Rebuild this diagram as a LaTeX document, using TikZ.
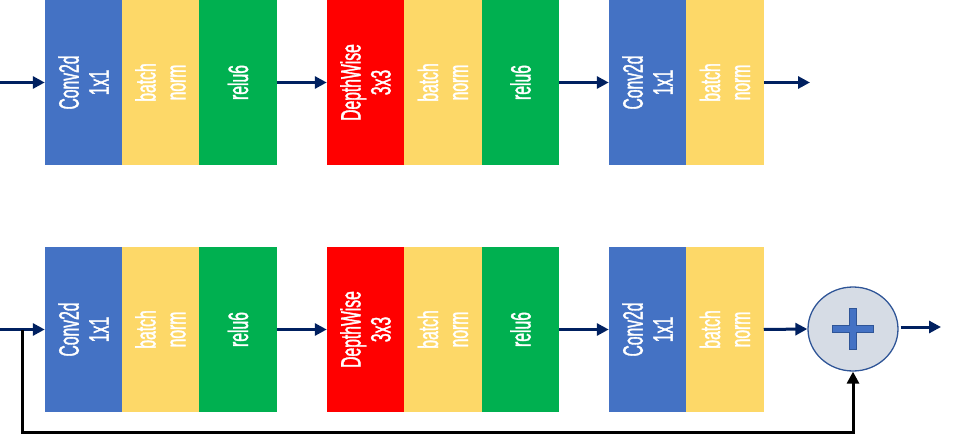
\documentclass[tikz,border=0pt]{standalone}
\usepackage{fontspec}
\newfontfamily\agency[FakeStretch=0.56,FakeBold=1.2]{Liberation Sans}
\usetikzlibrary{arrows.meta,shapes.geometric}
\definecolor{cblue}{HTML}{4472C4}
\definecolor{cyellow}{HTML}{FDD868}
\definecolor{cgreen}{HTML}{00B050}
\definecolor{cred}{HTML}{FF0000}
\definecolor{navy}{HTML}{002060}
\definecolor{sumfill}{HTML}{D6DCE5}
\definecolor{sumline}{HTML}{2F5597}
\begin{document}
\begin{tikzpicture}[x=1pt,y=-1pt,
  blk/.style={rotate=90,minimum width=165pt,minimum height=77.5pt,inner sep=0pt,outer sep=0pt,
    text=white,align=center,font=\agency\fontsize{28}{30}\selectfont},
  arr/.style={draw=navy,line width=3pt,-{Triangle[length=12pt,width=12pt]}},
  fb/.style={draw=black,line width=3pt,-{Triangle[length=12pt,width=12pt]}},
  sumnode/.style={ellipse,minimum width=90pt,minimum height=84pt,fill=sumfill,draw=sumline,line width=1.3pt,inner sep=0pt},
  plus/.style={fill=cblue,draw=sumline,line width=1.2pt}]
\useasboundingbox (0,0) rectangle (954,434);
% top row
\node[blk,fill=cblue]   (a1) at (83.5,82.5)  {Conv2d\\1x1};
\node[blk,fill=cyellow] (a2) at (160.5,82.5) {batch\\norm};
\node[blk,fill=cgreen]  (a3) at (238,82.5)   {relu6};
\node[blk,fill=cred]    (b1) at (365.5,82.5) {DepthWise\\3x3};
\node[blk,fill=cyellow] (b2) at (443,82.5)   {batch\\norm};
\node[blk,fill=cgreen]  (b3) at (520.5,82.5) {relu6};
\node[blk,fill=cblue]   (c1) at (647.5,82.5) {Conv2d\\1x1};
\node[blk,fill=cyellow] (c2) at (725,82.5)   {batch\\norm};
\coordinate (in1) at (0,82.5);
\coordinate (out1) at (810,82.5);
\draw[arr] (in1) -- (a1.north);
\draw[arr] (a3.south) -- (b1.north);
\draw[arr] (b3.south) -- (c1.north);
\draw[arr] (c2.south) -- (out1);
% bottom row
\node[blk,fill=cblue]   (d1) at (83.5,329.5)  {Conv2d\\1x1};
\node[blk,fill=cyellow] (d2) at (160.5,329.5) {batch\\norm};
\node[blk,fill=cgreen]  (d3) at (238,329.5)   {relu6};
\node[blk,fill=cred]    (e1) at (365.5,329.5) {DepthWise\\3x3};
\node[blk,fill=cyellow] (e2) at (443,329.5)   {batch\\norm};
\node[blk,fill=cgreen]  (e3) at (520.5,329.5) {relu6};
\node[blk,fill=cblue]   (f1) at (647.5,329.5) {Conv2d\\1x1};
\node[blk,fill=cyellow] (f2) at (725,329.5)   {batch\\norm};
\node[sumnode] (sum) at (853,329) {};
\draw[plus] ([shift={(-3.5,-20.5)}]sum.center) -- ++(7,0) -- ++(0,17) -- ++(17,0) -- ++(0,7) -- ++(-17,0) -- ++(0,17) -- ++(-7,0) -- ++(0,-17) -- ++(-17,0) -- ++(0,-7) -- ++(17,0) -- cycle;
\coordinate (in2) at (0,329.5);
\coordinate (br) at (22,329.5);
\coordinate (corner) at (22,432);
\coordinate (out2) at (941,327);
\draw[arr] (in2) -- (d1.north);
\draw[arr] (d3.south) -- (e1.north);
\draw[arr] (e3.south) -- (f1.north);
\draw[arr] (f2.south) -- (sum.west);
\draw[arr] (sum.east |- out2) ++(2,0) -- (out2);
\draw[fb] (br) -- (corner) -| (sum.south);
\end{tikzpicture}
\end{document}
